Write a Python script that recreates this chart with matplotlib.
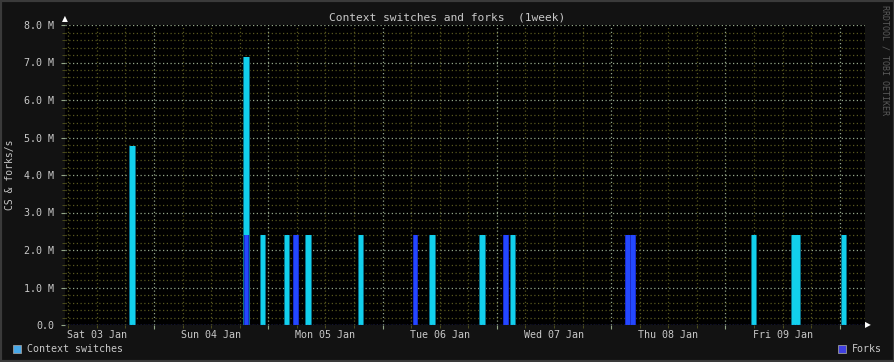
import matplotlib
matplotlib.use("Agg")
import matplotlib.pyplot as plt
from matplotlib.ticker import MultipleLocator, FuncFormatter
from matplotlib.transforms import blended_transform_factory

# x in days since midnight Sat 03 Jan
cs_times = [0.812, 1.809, 1.954, 2.164, 2.352, 2.811, 3.437, 3.874, 4.141,
            6.249, 6.601, 6.631, 7.036]
cs_values = [4.78, 7.15, 2.4, 2.4, 2.4, 2.4, 2.4, 2.4, 2.4,
             2.4, 2.4, 2.4, 2.4]
fork_times = [1.809, 2.242, 3.288, 4.080, 5.147, 5.191]
fork_values = [2.4, 2.4, 2.4, 2.4, 2.4, 2.4]
day_labels = ["Sat 03 Jan", "Sun 04 Jan", "Mon 05 Jan", "Tue 06 Jan",
              "Wed 07 Jan", "Thu 08 Jan", "Fri 09 Jan"]
y_max = 8.0

font = "DejaVu Sans Mono"
txt = "#c8c8c8"
W, H = 895, 362

fig = plt.figure(figsize=(W / 100, H / 100), dpi=100, facecolor="#121212")
ax = fig.add_axes([65 / W, (H - 325) / H, 800 / W, 300 / H])
ax.set_facecolor("#000000")

x0 = 0.2213
ax.set_xlim(x0, x0 + 7)
ax.set_ylim(0, y_max)

bw = 0.04
ax.bar(cs_times, cs_values, width=bw * 1.35, color="#0a6f86", zorder=3, linewidth=0)
ax.bar(cs_times, cs_values, width=bw, color="#12d0ec", zorder=3, linewidth=0)
ax.bar(fork_times, fork_values, width=bw * 1.2, color="#1a2ccc", zorder=4, linewidth=0)
ax.bar(fork_times, fork_values, width=bw * 0.8, color="#2448ff", zorder=4, linewidth=0)

ax.xaxis.set_major_locator(MultipleLocator(1))
ax.xaxis.set_minor_locator(MultipleLocator(0.25))
ax.yaxis.set_major_locator(MultipleLocator(1))
ax.yaxis.set_minor_locator(MultipleLocator(0.2))

ax.grid(which="minor", color="#56561e", linestyle=(0, (1, 2)), linewidth=0.9, zorder=1)
ax.grid(which="major", color="#93a688", linestyle=(0, (1, 2)), linewidth=0.9, zorder=2)

ax.xaxis.set_major_formatter(FuncFormatter(lambda v, p: ""))
ax.yaxis.set_major_formatter(
    FuncFormatter(lambda v, p: "0.0" if v == 0 else "%.1f M" % v))
ax.tick_params(axis="y", which="major", length=3, color="#93a688",
               labelcolor=txt, labelsize=7.2, pad=5)
ax.tick_params(axis="y", which="minor", length=2, color="#56561e")
ax.tick_params(axis="x", which="major", length=3, color="#93a688")
ax.tick_params(axis="x", which="minor", length=2, color="#56561e")
for lab in ax.get_yticklabels():
    lab.set_family(font)

tr = blended_transform_factory(ax.transData, ax.transAxes)
for i, lab in enumerate(day_labels):
    ax.text(i + 0.5, -0.035, lab, transform=tr, ha="center", va="center",
            color=txt, fontsize=7.2, family=font)

for s in ax.spines.values():
    s.set_visible(False)
ax.axhline(0, color="#2828b0", linestyle=(0, (1, 1)), linewidth=1, zorder=5)

# arrows
fig.text(65 / W, 1 - 19 / H, "\u25b2", color="white", fontsize=5.5,
         ha="center", va="center")
fig.text(868 / W, 1 - 325 / H, "\u25b6", color="white", fontsize=5.5,
         ha="center", va="center")

fig.text(447 / W, 1 - 17 / H, "Context switches and forks  (1week)",
         color=txt, fontsize=8.1, family=font, ha="center", va="center")
fig.text(10 / W, 1 - 175 / H, "CS & forks/s", color=txt, fontsize=7.0,
         family=font, rotation=90, ha="center", va="center")
fig.text(885 / W, 1 - 60 / H, "RRDTOOL / TOBI OETIKER", color="#5a5a5a",
         fontsize=6, family=font, rotation=270, ha="center", va="center")

# legend
fig.patches.append(plt.Rectangle((13 / W, 1 - 353 / H), 8 / W, 8 / H,
                                 transform=fig.transFigure, facecolor="#48a8e8",
                                 edgecolor="#9a9a9a", linewidth=0.6))
fig.text(27 / W, 1 - 349 / H, "Context switches", color=txt, fontsize=7.2,
         family=font, ha="left", va="center")
fig.patches.append(plt.Rectangle((838 / W, 1 - 353 / H), 8 / W, 8 / H,
                                 transform=fig.transFigure, facecolor="#4040e0",
                                 edgecolor="#9a9a9a", linewidth=0.6))
fig.text(852 / W, 1 - 349 / H, "Forks", color=txt, fontsize=7.2,
         family=font, ha="left", va="center")

# outer frame
fig.patches.append(plt.Rectangle((0, 0), 1, 1, transform=fig.transFigure,
                                 fill=False, edgecolor="#3a3a3a", linewidth=3))

fig.savefig("out.png", dpi=100, facecolor=fig.get_facecolor())
